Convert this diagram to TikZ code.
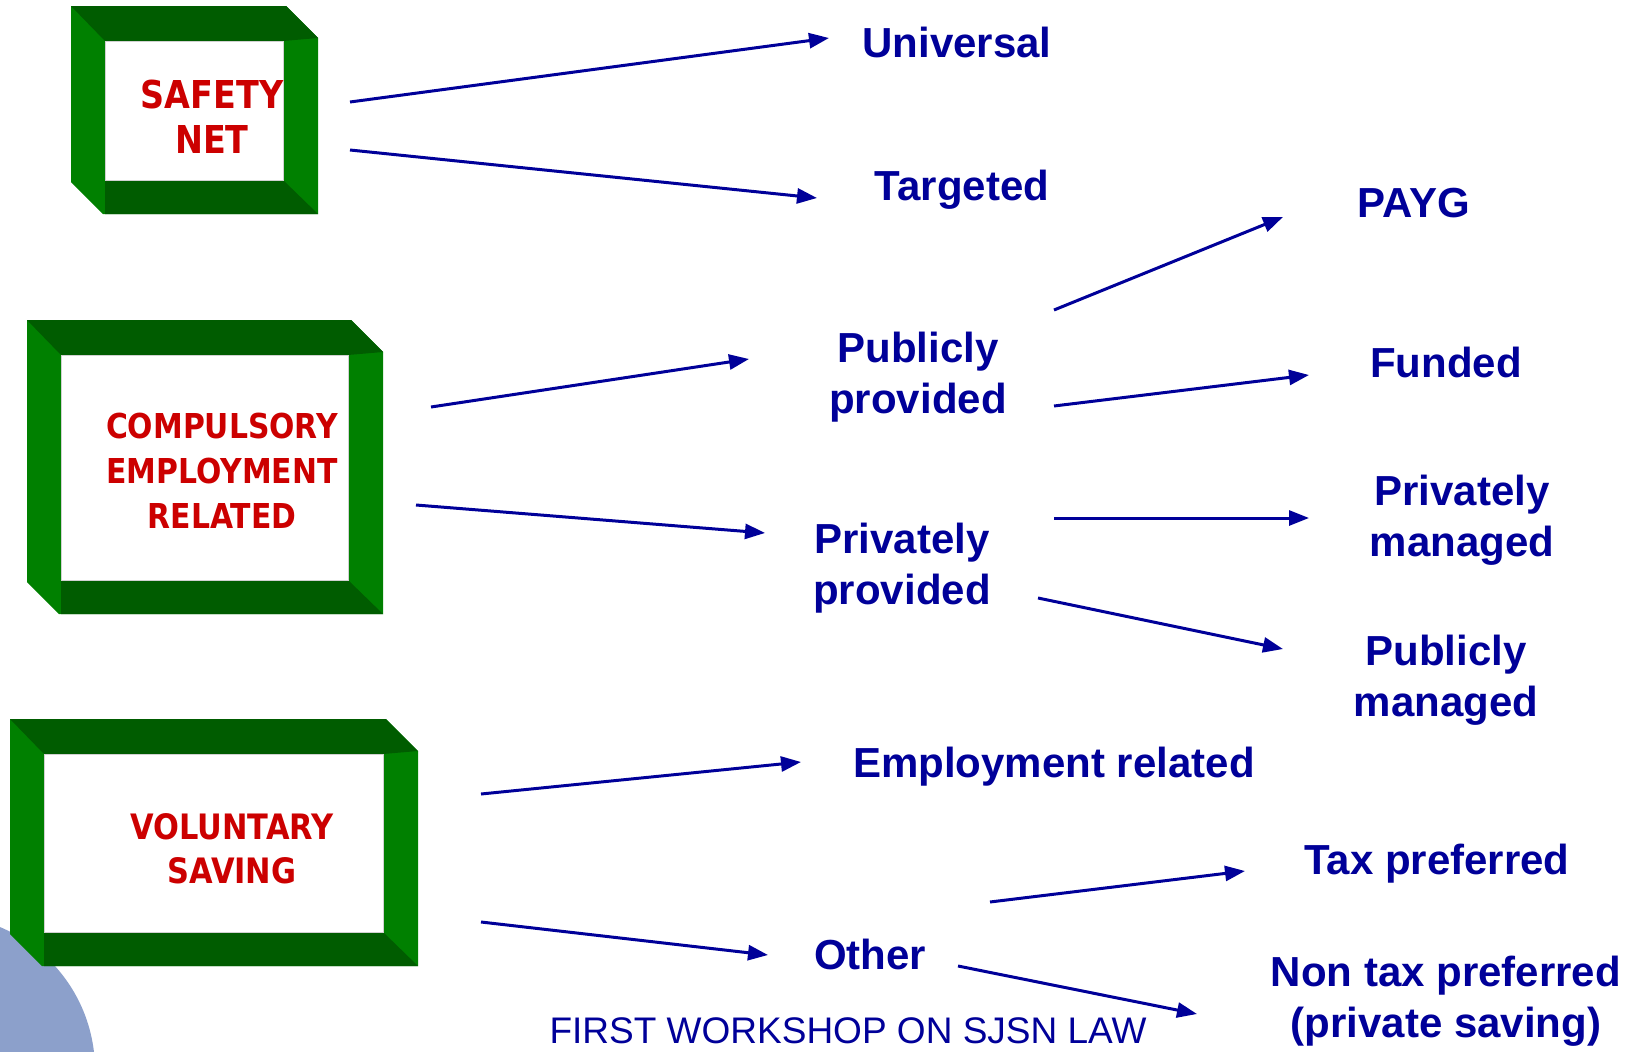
\documentclass[tikz,border=0pt]{standalone}
\usepackage{fontspec}
\setmainfont{Liberation Sans}
\newfontfamily\redfont[FakeStretch=0.87]{DejaVu Sans}
\usetikzlibrary{arrows.meta,calc}
\definecolor{navy}{RGB}{0,0,153}
\definecolor{redt}{RGB}{204,0,0}
\definecolor{gbright}{RGB}{0,128,0}
\definecolor{gdark}{RGB}{0,92,0}
\definecolor{circ}{RGB}{140,160,203}
\newcommand{\greenframe}[4]{%
  \fill[gbright] (#1,#2) -- (#3-32,#2) -- (#3,#2+32) -- (#3,#4) -- (#1+32,#4) -- (#1,#4-32) -- cycle;
  \fill[gdark] (#1,#2) -- (#3-32,#2) -- (#3,#2+32) -- (#3-35,#2+35) -- (#1+34,#2+35) -- cycle;
  \fill[gdark] (#1+34,#4-34) -- (#3-35,#4-34) -- (#3,#4) -- (#1+34,#4) -- cycle;
  \filldraw[fill=white,draw=black!18,line width=1pt] (#1+34,#2+35) rectangle (#3-35,#4-34);
}
\tikzset{
  lbl/.style={font=\bfseries\fontsize{42}{51.5}\selectfont, text=navy, inner sep=0pt, anchor=base, align=center},
  redlbl/.style={text=redt, inner sep=0pt, anchor=base, align=center},
  arr/.style={draw=navy, line width=3pt, -{Triangle[length=20pt,width=15pt]}}
}
\begin{document}
\begin{tikzpicture}[x=1pt,y=-1pt]
\useasboundingbox (0,0) rectangle (1634,1052);
\fill[white] (0,0) rectangle (1634,1052);
\begin{scope}
  \clip (0,0) rectangle (1634,1052);
  \fill[circ] (-60,1070) circle (155pt);
\end{scope}
\greenframe{71}{6}{318}{214}
\greenframe{27}{320}{383}{614}
\greenframe{10}{719}{418}{966}

% multi-line nodes: base anchor = baseline of last line
\node[redlbl, font=\redfont\bfseries\fontsize{38.4}{45}\selectfont] (sn) at (212,153) {SAFETY\\NET};
\node[redlbl, font=\redfont\bfseries\fontsize{34.3}{45}\selectfont] (comp) at (222,528) {COMPULSORY\\EMPLOYMENT\\RELATED};
\node[redlbl, font=\redfont\bfseries\fontsize{35}{44}\selectfont] (vol) at (232,883) {VOLUNTARY\\SAVING};

\node[lbl] (univ) at (957,57) {Universal};
\node[lbl] (targ) at (962,200) {Targeted};
\node[lbl] (payg) at (1414,217) {PAYG};
\node[lbl] (pubprov) at (918,413.5) {Publicly\\provided};
\node[lbl] (funded) at (1446,377) {Funded};
\node[lbl] (privman) at (1462,556.5) {Privately\\managed};
\node[lbl] (privprov) at (902,604.5) {Privately\\provided};
\node[lbl] (pubman) at (1446,716.5) {Publicly\\managed};
\node[lbl] (emp) at (1054,777) {Employment related};
\node[lbl] (tax) at (1437,874) {Tax preferred};
\node[lbl] (other) at (870,969) {Other};
\node[lbl] (nontax) at (1446,1037.5) {Non tax preferred\\(private saving)};
\node[font=\fontsize{37}{44}\selectfont, text=navy, inner sep=0pt, anchor=base] (foot) at (848,1043) {FIRST WORKSHOP ON SJSN LAW};

\draw[arr] ($(sn.base)+(138,-51)$) -- ($(univ.base)+(-128,-19)$);
\draw[arr] ($(sn.base)+(138,-3)$) -- ($(targ.base)+(-145,-2)$);
\draw[arr] ($(comp.base)+(209,-121)$) -- ($(pubprov.base)+(-169,-54.5)$);
\draw[arr] ($(comp.base)+(194,-23)$) -- ($(privprov.base)+(-137,-71.5)$);
\draw[arr] ($(pubprov.base)+(136,-103.5)$) -- ($(payg.base)+(-131,0)$);
\draw[arr] ($(pubprov.base)+(136,-7.5)$) -- ($(funded.base)+(-137,-2)$);
\draw[arr] ($(privprov.base)+(152,-86.5)$) -- ($(privman.base)+(-153,-38.5)$);
\draw[arr] ($(privprov.base)+(136,-6.5)$) -- ($(pubman.base)+(-163,-67.5)$);
\draw[arr] ($(vol.base)+(249,-89)$) -- ($(emp.base)+(-253,-15)$);
\draw[arr] ($(vol.base)+(249,39)$) -- ($(other.base)+(-102,-14)$);
\draw[arr] ($(other.base)+(120,-67)$) -- ($(tax.base)+(-192,-3)$);
\draw[arr] ($(other.base)+(88,-3)$) -- ($(nontax.base)+(-249,-23.5)$);
\end{tikzpicture}
\end{document}
